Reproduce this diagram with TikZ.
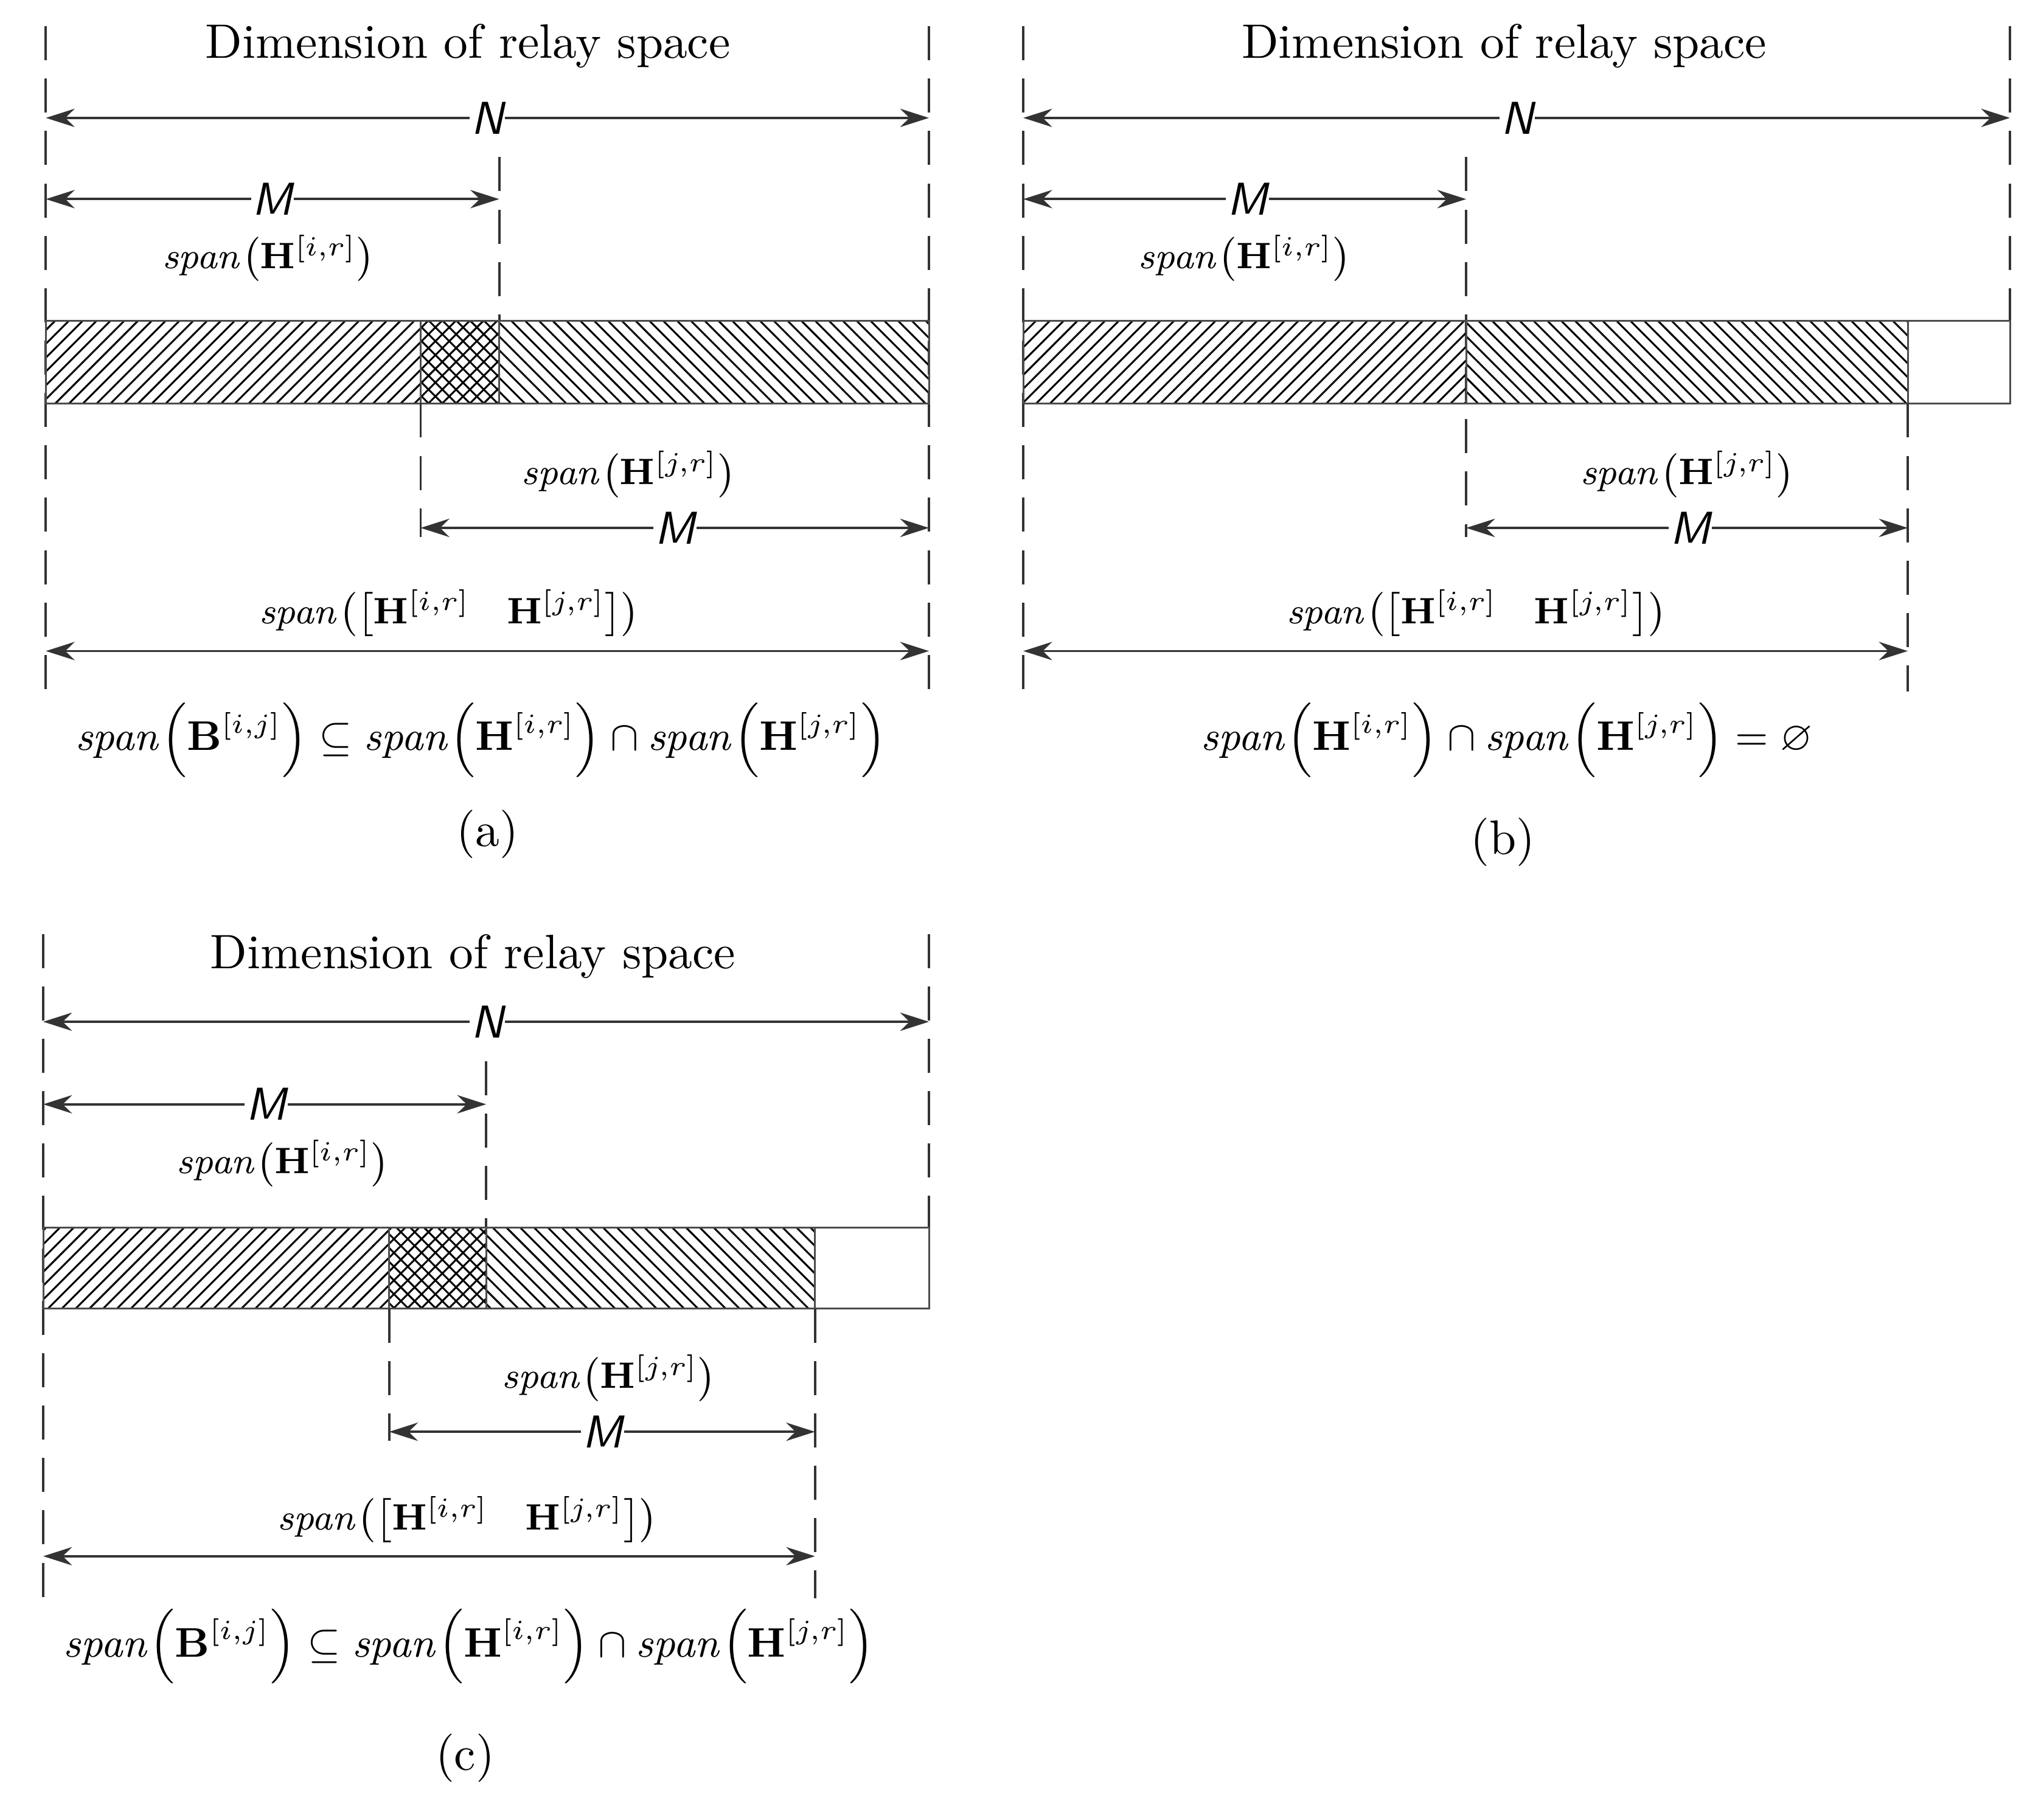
\documentclass[tikz,border=0pt]{standalone}
\usepackage{amsmath,amssymb}
\usetikzlibrary{patterns,arrows.meta}
\tikzset{
 dl/.style={draw=black!80,line width=0.5pt,dash pattern=on 2.6mm off 1.4mm},
 dim/.style={draw=black!80,line width=0.5pt,{Stealth[length=2.2mm,width=1.4mm]}-{Stealth[length=2.2mm,width=1.4mm]}},
 lbl/.style={fill=white,inner sep=0.3pt,font=\sffamily\itshape\normalsize},
 ne/.style={draw=black!70,pattern=north east lines},
 nw/.style={draw=black!70,pattern=north west lines},
 cr/.style={draw=black!70,pattern=crosshatch},
 wh/.style={draw=black!70,fill=white},
 tt/.style={font=\fontsize{10.5}{12}\selectfont},
 sl/.style={font=\footnotesize,inner sep=0.5pt},
 eq/.style={font=\small},
}
\newcommand{\spn}[1]{\mathit{span}\!\left(#1\right)}
\begin{document}
\begin{tikzpicture}[x=0.1mm,y=-0.1mm]
\useasboundingbox (0,0) rectangle (1560,1373);
% ---------- (a)
\draw[dl] (35,20)--(35,530); \draw[dl] (709,20)--(709,530);
\node[tt] (ta) at (357,35) {Dimension of relay space};
\coordinate (aN1) at (35,90); \coordinate (aN2) at (709,90);
\draw[dim] (aN1)--(aN2); \node[lbl] (aN) at (372,90) {N};
\coordinate (aM1) at (35,152); \coordinate (aM2) at (381,152);
\draw[dim] (aM1)--(aM2); \node[lbl] (aM) at (208,152) {M};
\draw[dl] (381,120)--(381,245);
\node[sl] (ahi) at (205,197) {$\spn{\mathbf{H}^{[i,r]}}$};
\draw[ne] (35,245) rectangle (321,308);
\draw[cr] (321,245) rectangle (381,308);
\draw[nw] (381,245) rectangle (709,308);
\draw[dl] (321,308)--(321,410);
\node[sl] (ahj) at (480,362) {$\spn{\mathbf{H}^{[j,r]}}$};
\coordinate (aM3) at (321,403); \coordinate (aM4) at (709,403);
\draw[dim] (aM3)--(aM4); \node[lbl] (aMb) at (515,403) {M};
\node[sl] (ahh) at (343,468) {$\spn{\left[\mathbf{H}^{[i,r]}\quad\mathbf{H}^{[j,r]}\right]}$};
\coordinate (aS1) at (35,497); \coordinate (aS2) at (709,497);
\draw[dim] (aS1)--(aS2);
\node[eq] (aeq) at (367,565) {$\spn{\mathbf{B}^{[i,j]}}\subseteq\spn{\mathbf{H}^{[i,r]}}\cap\spn{\mathbf{H}^{[j,r]}}$};
\node[tt] (acap) at (372,637) {(a)};
% ---------- (b)
\draw[dl] (781,20)--(781,530); \draw[dl] (1534,20)--(1534,245);
\node[tt] (tb) at (1148,35) {Dimension of relay space};
\coordinate (bN1) at (781,90); \coordinate (bN2) at (1534,90);
\draw[dim] (bN1)--(bN2); \node[lbl] (bN) at (1158,90) {N};
\coordinate (bM1) at (781,152); \coordinate (bM2) at (1119,152);
\draw[dim] (bM1)--(bM2); \node[lbl] (bM) at (952,152) {M};
\draw[dl] (1119,120)--(1119,410);
\node[sl] (bhi) at (950,197) {$\spn{\mathbf{H}^{[i,r]}}$};
\draw[ne] (781,245) rectangle (1119,308);
\draw[nw] (1119,245) rectangle (1456,308);
\draw[wh] (1456,245) rectangle (1534,308);
\draw[dl] (1456,308)--(1456,528);
\node[sl] (bhj) at (1288,362) {$\spn{\mathbf{H}^{[j,r]}}$};
\coordinate (bM3) at (1119,403); \coordinate (bM4) at (1456,403);
\draw[dim] (bM3)--(bM4); \node[lbl] (bMb) at (1290,403) {M};
\node[sl] (bhh) at (1127,468) {$\spn{\left[\mathbf{H}^{[i,r]}\quad\mathbf{H}^{[j,r]}\right]}$};
\coordinate (bS1) at (781,497); \coordinate (bS2) at (1456,497);
\draw[dim] (bS1)--(bS2);
\node[eq] (beq) at (1150,565) {$\spn{\mathbf{H}^{[i,r]}}\cap\spn{\mathbf{H}^{[j,r]}}=\varnothing$};
\node[tt] (bcap) at (1147,643) {(b)};
% ---------- (c)
\draw[dl] (33,713)--(33,1220); \draw[dl] (709,713)--(709,937);
\node[tt] (tc) at (361,730) {Dimension of relay space};
\coordinate (cN1) at (33,780); \coordinate (cN2) at (709,780);
\draw[dim] (cN1)--(cN2); \node[lbl] (cN) at (372,780) {N};
\coordinate (cM1) at (33,843); \coordinate (cM2) at (371,843);
\draw[dim] (cM1)--(cM2); \node[lbl] (cM) at (203,843) {M};
\draw[dl] (371,810)--(371,937);
\node[sl] (chi) at (216,888) {$\spn{\mathbf{H}^{[i,r]}}$};
\draw[ne] (33,937) rectangle (297,999);
\draw[cr] (297,937) rectangle (371,999);
\draw[nw] (371,937) rectangle (622,999);
\draw[wh] (622,937) rectangle (709,999);
\draw[dl] (297,999)--(297,1100);
\draw[dl] (622,999)--(622,1220);
\node[sl] (chj) at (465,1052) {$\spn{\mathbf{H}^{[j,r]}}$};
\coordinate (cM3) at (297,1093); \coordinate (cM4) at (622,1093);
\draw[dim] (cM3)--(cM4); \node[lbl] (cMb) at (460,1093) {M};
\node[sl] (chh) at (357,1160) {$\spn{\left[\mathbf{H}^{[i,r]}\quad\mathbf{H}^{[j,r]}\right]}$};
\coordinate (cS1) at (33,1188); \coordinate (cS2) at (622,1188);
\draw[dim] (cS1)--(cS2);
\node[eq] (ceq) at (358,1257) {$\spn{\mathbf{B}^{[i,j]}}\subseteq\spn{\mathbf{H}^{[i,r]}}\cap\spn{\mathbf{H}^{[j,r]}}$};
\node[tt] (ccap) at (355,1342) {(c)};
\end{tikzpicture}
\end{document}
